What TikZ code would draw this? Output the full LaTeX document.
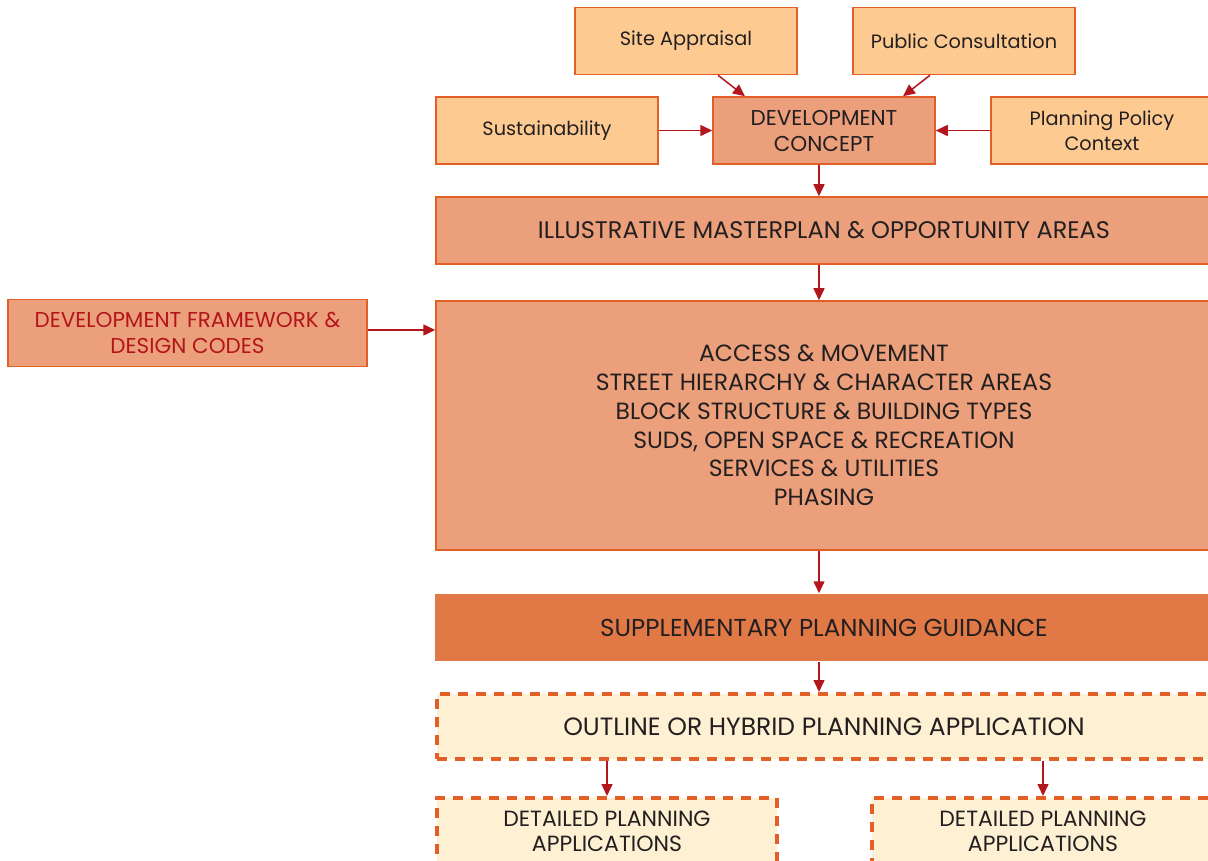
\documentclass[tikz,border=0pt]{standalone}
\usepackage{fontspec}
\setmainfont{Poppins}
\usetikzlibrary{arrows.meta,positioning}

\definecolor{peach}{HTML}{FDCB92}
\definecolor{salmon}{HTML}{EBA07B}
\definecolor{spgorange}{HTML}{E07946}
\definecolor{cream}{HTML}{FEF1D3}
\definecolor{edgeorange}{HTML}{E25F27}
\definecolor{arrowred}{HTML}{B3151D}
\definecolor{inkgrey}{HTML}{231F20}

\begin{document}
\begin{tikzpicture}[
    x=1pt, y=-1pt,
    inputnode/.style={draw=edgeorange, fill=peach, line width=1.5pt, minimum width=222pt, minimum height=67pt, inner sep=0pt, align=center, text=inkgrey, font=\fontsize{19.3}{25}\selectfont},
    stagenode/.style={draw=edgeorange, fill=salmon, line width=1.5pt, minimum height=67pt, inner sep=0pt, align=center, text=inkgrey, font=\fontsize{21.5}{26}\selectfont},
    appnode/.style={draw=edgeorange, fill=cream, line width=4pt, dash pattern=on 10pt off 8pt, minimum height=65pt, inner sep=0pt, align=center, text=inkgrey, font=\fontsize{22}{25}\selectfont},
    flow/.style={draw=arrowred, line width=1.5pt, -{Triangle[length=12pt,width=11pt]}}
]
\useasboundingbox (0,0) rectangle (1208,861);

% Inputs to the concept
\node[inputnode] (site) at (686,41) {Site Appraisal};
\node[inputnode] (public) at (964,41) {Public Consultation};
\node[inputnode] (sustain) at (547,130.5) {Sustainability};
\node[inputnode] (policy) at (1102,130.5) {Planning Policy\\Context};
\node[stagenode, minimum width=222pt] (concept) at (824,130.5) {DEVELOPMENT\\CONCEPT};

% Main stages
\node[stagenode, minimum width=776pt, font=\fontsize{24}{28}\selectfont] (masterplan) at (824,230.5) {ILLUSTRATIVE MASTERPLAN \& OPPORTUNITY AREAS};
\node[stagenode, minimum width=776pt, minimum height=249pt, font=\fontsize{23.5}{28.8}\selectfont] (framework) at (824,425.5) {ACCESS \& MOVEMENT\\STREET HIERARCHY \& CHARACTER AREAS\\BLOCK STRUCTURE \& BUILDING TYPES\\SUDS, OPEN SPACE \& RECREATION\\SERVICES \& UTILITIES\\PHASING};
\node[stagenode, minimum width=359pt, text=arrowred] (codes) at (187.5,333) {DEVELOPMENT FRAMEWORK \&\\DESIGN CODES};
\node[stagenode, draw=none, fill=spgorange, minimum width=778pt, font=\fontsize{24.5}{28}\selectfont] (spg) at (824,627.5) {SUPPLEMENTARY PLANNING GUIDANCE};

% Applications
\node[appnode, minimum width=775pt, font=\fontsize{25}{28}\selectfont] (outline) at (824,726.5) {OUTLINE OR HYBRID PLANNING APPLICATION};
\node[appnode, minimum width=340pt, minimum height=66pt] (detailA) at (607,831) {DETAILED PLANNING\\APPLICATIONS};
\node[appnode, minimum width=342pt, minimum height=66pt] (detailB) at (1043,831) {DETAILED PLANNING\\APPLICATIONS};

% Connectors
\draw[flow] ([xshift=32pt]site.south) -- ([xshift=-79pt]concept.north);
\draw[flow] ([xshift=-34pt]public.south) -- ([xshift=79pt]concept.north);
\draw[flow] (sustain) -- (concept);
\draw[flow] (policy) -- (concept);
\draw[flow] ([xshift=-5pt]concept.south) -- ([xshift=-5pt]masterplan.north);
\draw[flow] ([xshift=-5pt]masterplan.south) -- ([xshift=-5pt]framework.north);
\draw[flow] ([yshift=3pt]codes.east) -- ([yshift=3pt]codes.east -| framework.west);
\draw[flow] ([xshift=-5pt]framework.south) -- ([xshift=-5pt]spg.north);
\draw[flow] ([xshift=-5pt]spg.south) -- ([xshift=-5pt]outline.north);
\draw[flow] (outline.south -| detailA.north) -- (detailA.north);
\draw[flow] (outline.south -| detailB.north) -- (detailB.north);

\end{tikzpicture}
\end{document}
